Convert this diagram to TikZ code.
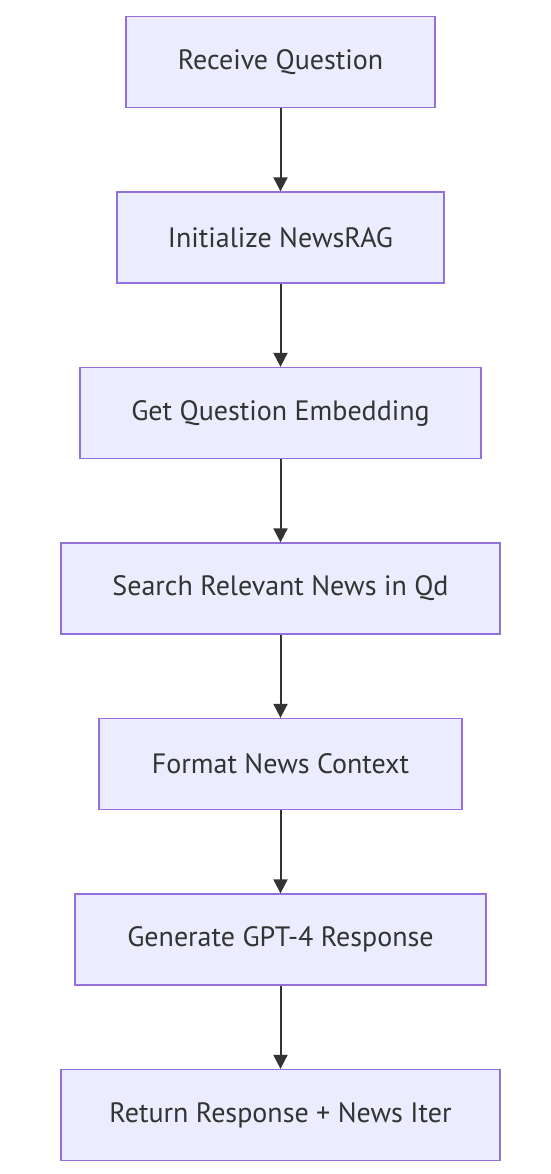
\documentclass[tikz,border=0pt]{standalone}
\usepackage{fontspec}
\setmainfont{PT Sans}
\usetikzlibrary{positioning,arrows.meta}
\definecolor{boxfill}{HTML}{ECECFF}
\definecolor{boxline}{HTML}{9370DB}
\definecolor{inkgray}{HTML}{333333}

\begin{document}
\begin{tikzpicture}[x=1pt, y=1pt,
	stepbox/.style={draw=boxline, fill=boxfill, line width=1.3pt, minimum height=91pt, inner sep=0pt, text=inkgray, font=\fontsize{28}{33}\selectfont},
	flow/.style={draw=inkgray, line width=2pt, -{Triangle[length=14pt,width=14pt]}}]
	\useasboundingbox (0,0) rectangle (550,-1174);

	% Steps, from top to bottom
	\node[stepbox, minimum width=309pt] (receive) at (280.5,-62) {Receive Question};
	\node[stepbox, minimum width=327pt, below=83.2pt of receive] (init) {Initialize NewsRAG};
	\node[stepbox, minimum width=401pt, below=83.2pt of init] (embed) {Get Question Embedding};
	\node[stepbox, minimum width=439pt, below=83.2pt of embed] (search) {Search Relevant News in Qd};
	\node[stepbox, minimum width=363pt, below=83.2pt of search] (format) {Format News Context};
	\node[stepbox, minimum width=411pt, below=83.2pt of format] (generate) {Generate GPT-4 Response};
	\node[stepbox, minimum width=439pt, below=83.2pt of generate] (return) {Return Response + News Iter};

	% Arrows between steps
	\draw[flow] (receive) -- (init);
	\draw[flow] (init) -- (embed);
	\draw[flow] (embed) -- (search);
	\draw[flow] (search) -- (format);
	\draw[flow] (format) -- (generate);
	\draw[flow] (generate) -- (return);
\end{tikzpicture}
\end{document}
